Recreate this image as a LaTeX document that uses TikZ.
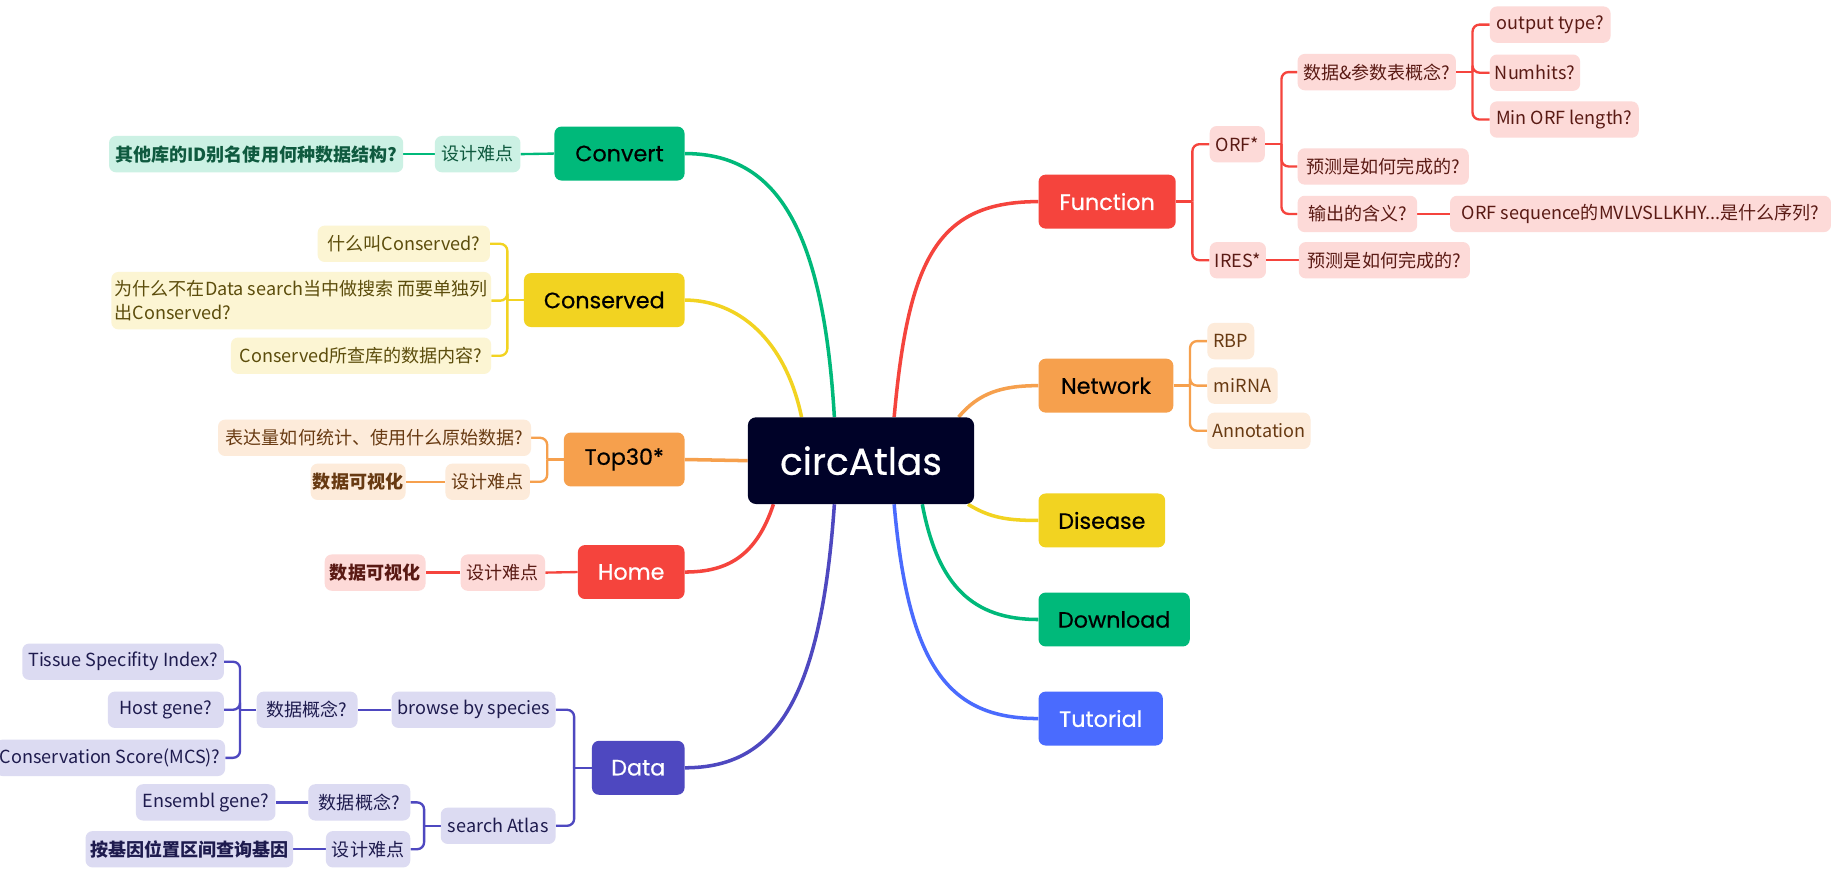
\documentclass[tikz,border=0pt]{standalone}
\usepackage{fontspec}
\setmainfont{Poppins}[BoldFont=Poppins, BoldFeatures={FakeBold=0.5}]
\newfontfamily\cjk{Noto Sans CJK SC}
\usetikzlibrary{backgrounds,calc}
\definecolor{cRed}{HTML}{F5443D}
\definecolor{cOrange}{HTML}{F6A04D}
\definecolor{cYellow}{HTML}{F2D321}
\definecolor{cGreen}{HTML}{00B97A}
\definecolor{cBlue}{HTML}{4A6BFE}
\definecolor{cPurple}{HTML}{4E48C0}
\definecolor{cNavy}{HTML}{000228}
\definecolor{lRed}{HTML}{FDDAD8}
\definecolor{tRed}{HTML}{5A1A14}
\definecolor{lOrange}{HTML}{FDEBDA}
\definecolor{tOrange}{HTML}{683A12}
\definecolor{lYellow}{HTML}{FCF5D3}
\definecolor{tYellow}{HTML}{5C4D0C}
\definecolor{lGreen}{HTML}{CCF1E4}
\definecolor{tGreen}{HTML}{0F5A3F}
\definecolor{lPurple}{HTML}{DCDBF2}
\definecolor{tPurple}{HTML}{1E1B4E}
\tikzset{
  mainbox/.style={rounded corners=6pt, minimum height=46pt, inner sep=0pt, font=\bfseries\fontsize{19}{23}\selectfont},
  subbox/.style={rounded corners=6pt, minimum height=31pt, inner sep=0pt, font=\cjk\fontsize{15.4}{20}\selectfont},
  boldsub/.style={font=\cjk\bfseries\fontsize{15.4}{20}\selectfont},
  rsub/.style={subbox, fill=lRed, text=tRed},
  osub/.style={subbox, fill=lOrange, text=tOrange},
  ysub/.style={subbox, fill=lYellow, text=tYellow},
  gsub/.style={subbox, fill=lGreen, text=tGreen},
  psub/.style={subbox, fill=lPurple, text=tPurple},
  trunk/.style={line width=3pt},
  conn/.style={line width=2pt, rounded corners=6pt},
}
\begin{document}
\begin{tikzpicture}[x=1pt,y=-1pt]
\useasboundingbox (0,0) rectangle (1568,752);
% center
\node[rounded corners=7pt, fill=cNavy, text=white, minimum width=193pt, minimum height=74pt, inner sep=0pt, font=\bfseries\fontsize{32}{36}\selectfont] (c) at (734.5,393) {circAtlas};
% right main topics
\node[mainbox, fill=cRed, text=white, minimum width=117pt] (func) at (944.5,172) {Function};
\node[mainbox, fill=cOrange, text=black, minimum width=115pt] (net) at (943.5,329) {Network};
\node[mainbox, fill=cYellow, text=black, minimum width=108pt] (dis) at (940,444) {Disease};
\node[mainbox, fill=cGreen, text=black, minimum width=129pt] (down) at (950.5,528.5) {Download};
\node[mainbox, fill=cBlue, text=white, minimum width=106pt] (tut) at (939,613) {Tutorial};
% left main topics
\node[mainbox, fill=cGreen, text=black, minimum width=111pt] (conv) at (528.5,131) {Convert};
\node[mainbox, fill=cYellow, text=black, minimum width=137pt] (cons) at (515.5,256) {Conserved};
\node[mainbox, fill=cOrange, text=black, minimum width=103pt] (top) at (532.5,392) {Top30*};
\node[mainbox, fill=cRed, text=white, minimum width=91pt] (home) at (538.5,488) {Home};
\node[mainbox, fill=cPurple, text=white, minimum width=79pt] (data) at (544.5,655) {Data};
% Function branch
\node[rsub, minimum width=47pt] (orf) at (1055.5,123) {ORF*};
\node[rsub, minimum width=48pt] (ires) at (1056,222) {IRES*};
\node[rsub, minimum width=135pt] (para) at (1174.5,61.5) {数据\&参数表概念?};
\node[rsub, minimum width=146pt] (pred1) at (1180,142) {预测是如何完成的?};
\node[rsub, minimum width=102pt] (mean) at (1158,182.5) {输出的含义?};
\node[rsub, minimum width=146pt] (pred2) at (1181,222) {预测是如何完成的?};
\node[rsub, minimum width=103pt] (otype) at (1322.5,21) {output type?};
\node[rsub, minimum width=77pt] (numh) at (1309.5,62) {Numhits?};
\node[rsub, minimum width=127pt] (minorf) at (1334.5,102) {Min ORF length?};
\node[rsub, minimum width=325pt] (seq) at (1399.5,182.5) {ORF sequence的MVLVSLLKHY...是什么序列?};
% Network branch
\node[osub, minimum width=40pt] (rbp) at (1050,291) {RBP};
\node[osub, minimum width=60pt] (mirna) at (1060,329) {miRNA};
\node[osub, minimum width=88pt] (annot) at (1074,367.5) {Annotation};
% Convert branch
\node[gsub, minimum width=73pt] (cd) at (407.5,131.5) {设计难点};
\node[gsub, boldsub, minimum width=251pt] (idq) at (218.5,131.5) {其他库的ID别名使用何种数据结构?};
% Conserved branch
\node[ysub, minimum width=147pt] (q1) at (344.5,208) {什么叫Conserved?};
\node[ysub, minimum width=324pt, minimum height=49pt, align=left] (q2) at (257,256.5) {为什么不在Data search当中做搜索 而要单独列\\出Conserved?};
\node[ysub, minimum width=222pt] (q3) at (308,303.5) {Conserved所查库的数据内容?};
% Top30 branch
\node[osub, minimum width=267pt] (t1) at (319.5,373.5) {表达量如何统计、使用什么原始数据?};
\node[osub, minimum width=72pt] (td) at (416,411) {设计难点};
\node[osub, boldsub, minimum width=81pt] (tv) at (305.5,411) {数据可视化};
% Home branch
\node[rsub, minimum width=72pt] (hd) at (429,488.5) {设计难点};
\node[rsub, boldsub, minimum width=86pt] (hv) at (320,488.5) {数据可视化};
% Data branch
\node[psub, minimum width=140pt] (browse) at (404,605.5) {browse by species};
\node[psub, minimum width=98pt] (sa) at (425,704.5) {search Atlas};
\node[psub, minimum width=86pt] (bc) at (262,605.5) {数据概念?};
\node[psub, minimum width=172pt] (tsi) at (105,564.5) {Tissue Specifity Index?};
\node[psub, minimum width=99pt] (hg) at (141.5,605.5) {Host gene?};
\node[psub, minimum width=196pt] (cs) at (94,646.5) {Conservation Score(MCS)?};
\node[psub, minimum width=87pt] (sc) at (306.5,684.5) {数据概念?};
\node[psub, minimum width=72pt] (sd) at (314,724.5) {设计难点};
\node[psub, minimum width=119pt] (eg) at (175.5,684.5) {Ensembl gene?};
\node[psub, boldsub, minimum width=177pt] (pos) at (161.5,724.5) {按基因位置区间查询基因};

\begin{pgfonlayer}{background}
\fill[white] (0,0) rectangle (1568,752);
% trunks
\draw[trunk, cRed] ([xshift=125pt]c.north west) .. controls (775,220) and (800,172) .. (func.west);
\draw[trunk, cOrange] ([xshift=180pt]c.north west) .. controls (835,335) and (855,329) .. (net.west);
\draw[trunk, cYellow] ([xshift=188pt]c.south west) .. controls (845,442) and (860,444) .. (dis.west);
\draw[trunk, cGreen] ([xshift=149pt]c.south west) .. controls (800,500) and (830,528.5) .. (down.west);
\draw[trunk, cBlue] ([xshift=125pt]c.south west) .. controls (775,570) and (810,613) .. (tut.west);
\draw[trunk, cGreen] ([xshift=74pt]c.north west) .. controls (702,190) and (660,131) .. (conv.east);
\draw[trunk, cYellow] ([xshift=46pt]c.north west) .. controls (670,290) and (630,256) .. (cons.east);
\draw[trunk, cOrange] (c.west) -- (top.east);
\draw[trunk, cRed] ([xshift=22pt]c.south west) .. controls (645,475) and (620,488) .. (home.east);
\draw[trunk, cPurple] ([xshift=74pt]c.south west) .. controls (700,600) and (660,655) .. (data.east);
% Function
\draw[conn, cRed] (func.east) -- ++(14,0) coordinate (fs);
\draw[conn, cRed] (fs) |- (orf.west);
\draw[conn, cRed] (fs) |- (ires.west);
\draw[conn, cRed] (orf.east) -- ++(14,0) coordinate (os);
\draw[conn, cRed] (os) |- (para.west);
\draw[conn, cRed] (os) |- (pred1.west);
\draw[conn, cRed] (os) |- (mean.west);
\draw[conn, cRed] (para.east) -- ++(14,0) coordinate (ps);
\draw[conn, cRed] (ps) |- (otype.west);
\draw[conn, cRed] (ps) |- (numh.west);
\draw[conn, cRed] (ps) |- (minorf.west);
\draw[conn, cRed] (mean.east) -- (seq.west);
\draw[conn, cRed] (ires.east) -- (pred2.west);
% Network
\draw[conn, cOrange] (net.east) -- ++(14,0) coordinate (ns);
\draw[conn, cOrange] (ns) |- (rbp.west);
\draw[conn, cOrange] (ns) |- (mirna.west);
\draw[conn, cOrange] (ns) |- (annot.west);
% Convert
\draw[conn, cGreen] (conv.west) -- (cd.east);
\draw[conn, cGreen] (cd.west) -- (idq.east);
% Conserved
\draw[conn, cYellow] (cons.west) -- ++(-14,0) coordinate (cs1);
\draw[conn, cYellow] (cs1) |- (q1.east);
\draw[conn, cYellow] (cs1) |- (q2.east);
\draw[conn, cYellow] (cs1) |- (q3.east);
% Top30
\draw[conn, cOrange] (top.west) -- ++(-14,0) coordinate (ts);
\draw[conn, cOrange] (ts) |- (t1.east);
\draw[conn, cOrange] (ts) |- (td.east);
\draw[conn, cOrange] (td.west) -- (tv.east);
% Home
\draw[conn, cRed] (home.west) -- (hd.east);
\draw[conn, cRed] (hd.west) -- (hv.east);
% Data
\draw[conn, cPurple] (data.west) -- ++(-15,0) coordinate (ds);
\draw[conn, cPurple] (ds) |- (browse.east);
\draw[conn, cPurple] (ds) |- (sa.east);
\draw[conn, cPurple] (browse.west) -- (bc.east);
\draw[conn, cPurple] (bc.west) -- ++(-14,0) coordinate (bs);
\draw[conn, cPurple] (bs) |- (tsi.east);
\draw[conn, cPurple] (bs) |- (hg.east);
\draw[conn, cPurple] (bs) |- (cs.east);
\draw[conn, cPurple] (sa.west) -- ++(-14,0) coordinate (ss);
\draw[conn, cPurple] (ss) |- (sc.east);
\draw[conn, cPurple] (ss) |- (sd.east);
\draw[conn, cPurple] (sc.west) -- (eg.east);
\draw[conn, cPurple] (sd.west) -- (pos.east);
\end{pgfonlayer}
\end{tikzpicture}
\end{document}
